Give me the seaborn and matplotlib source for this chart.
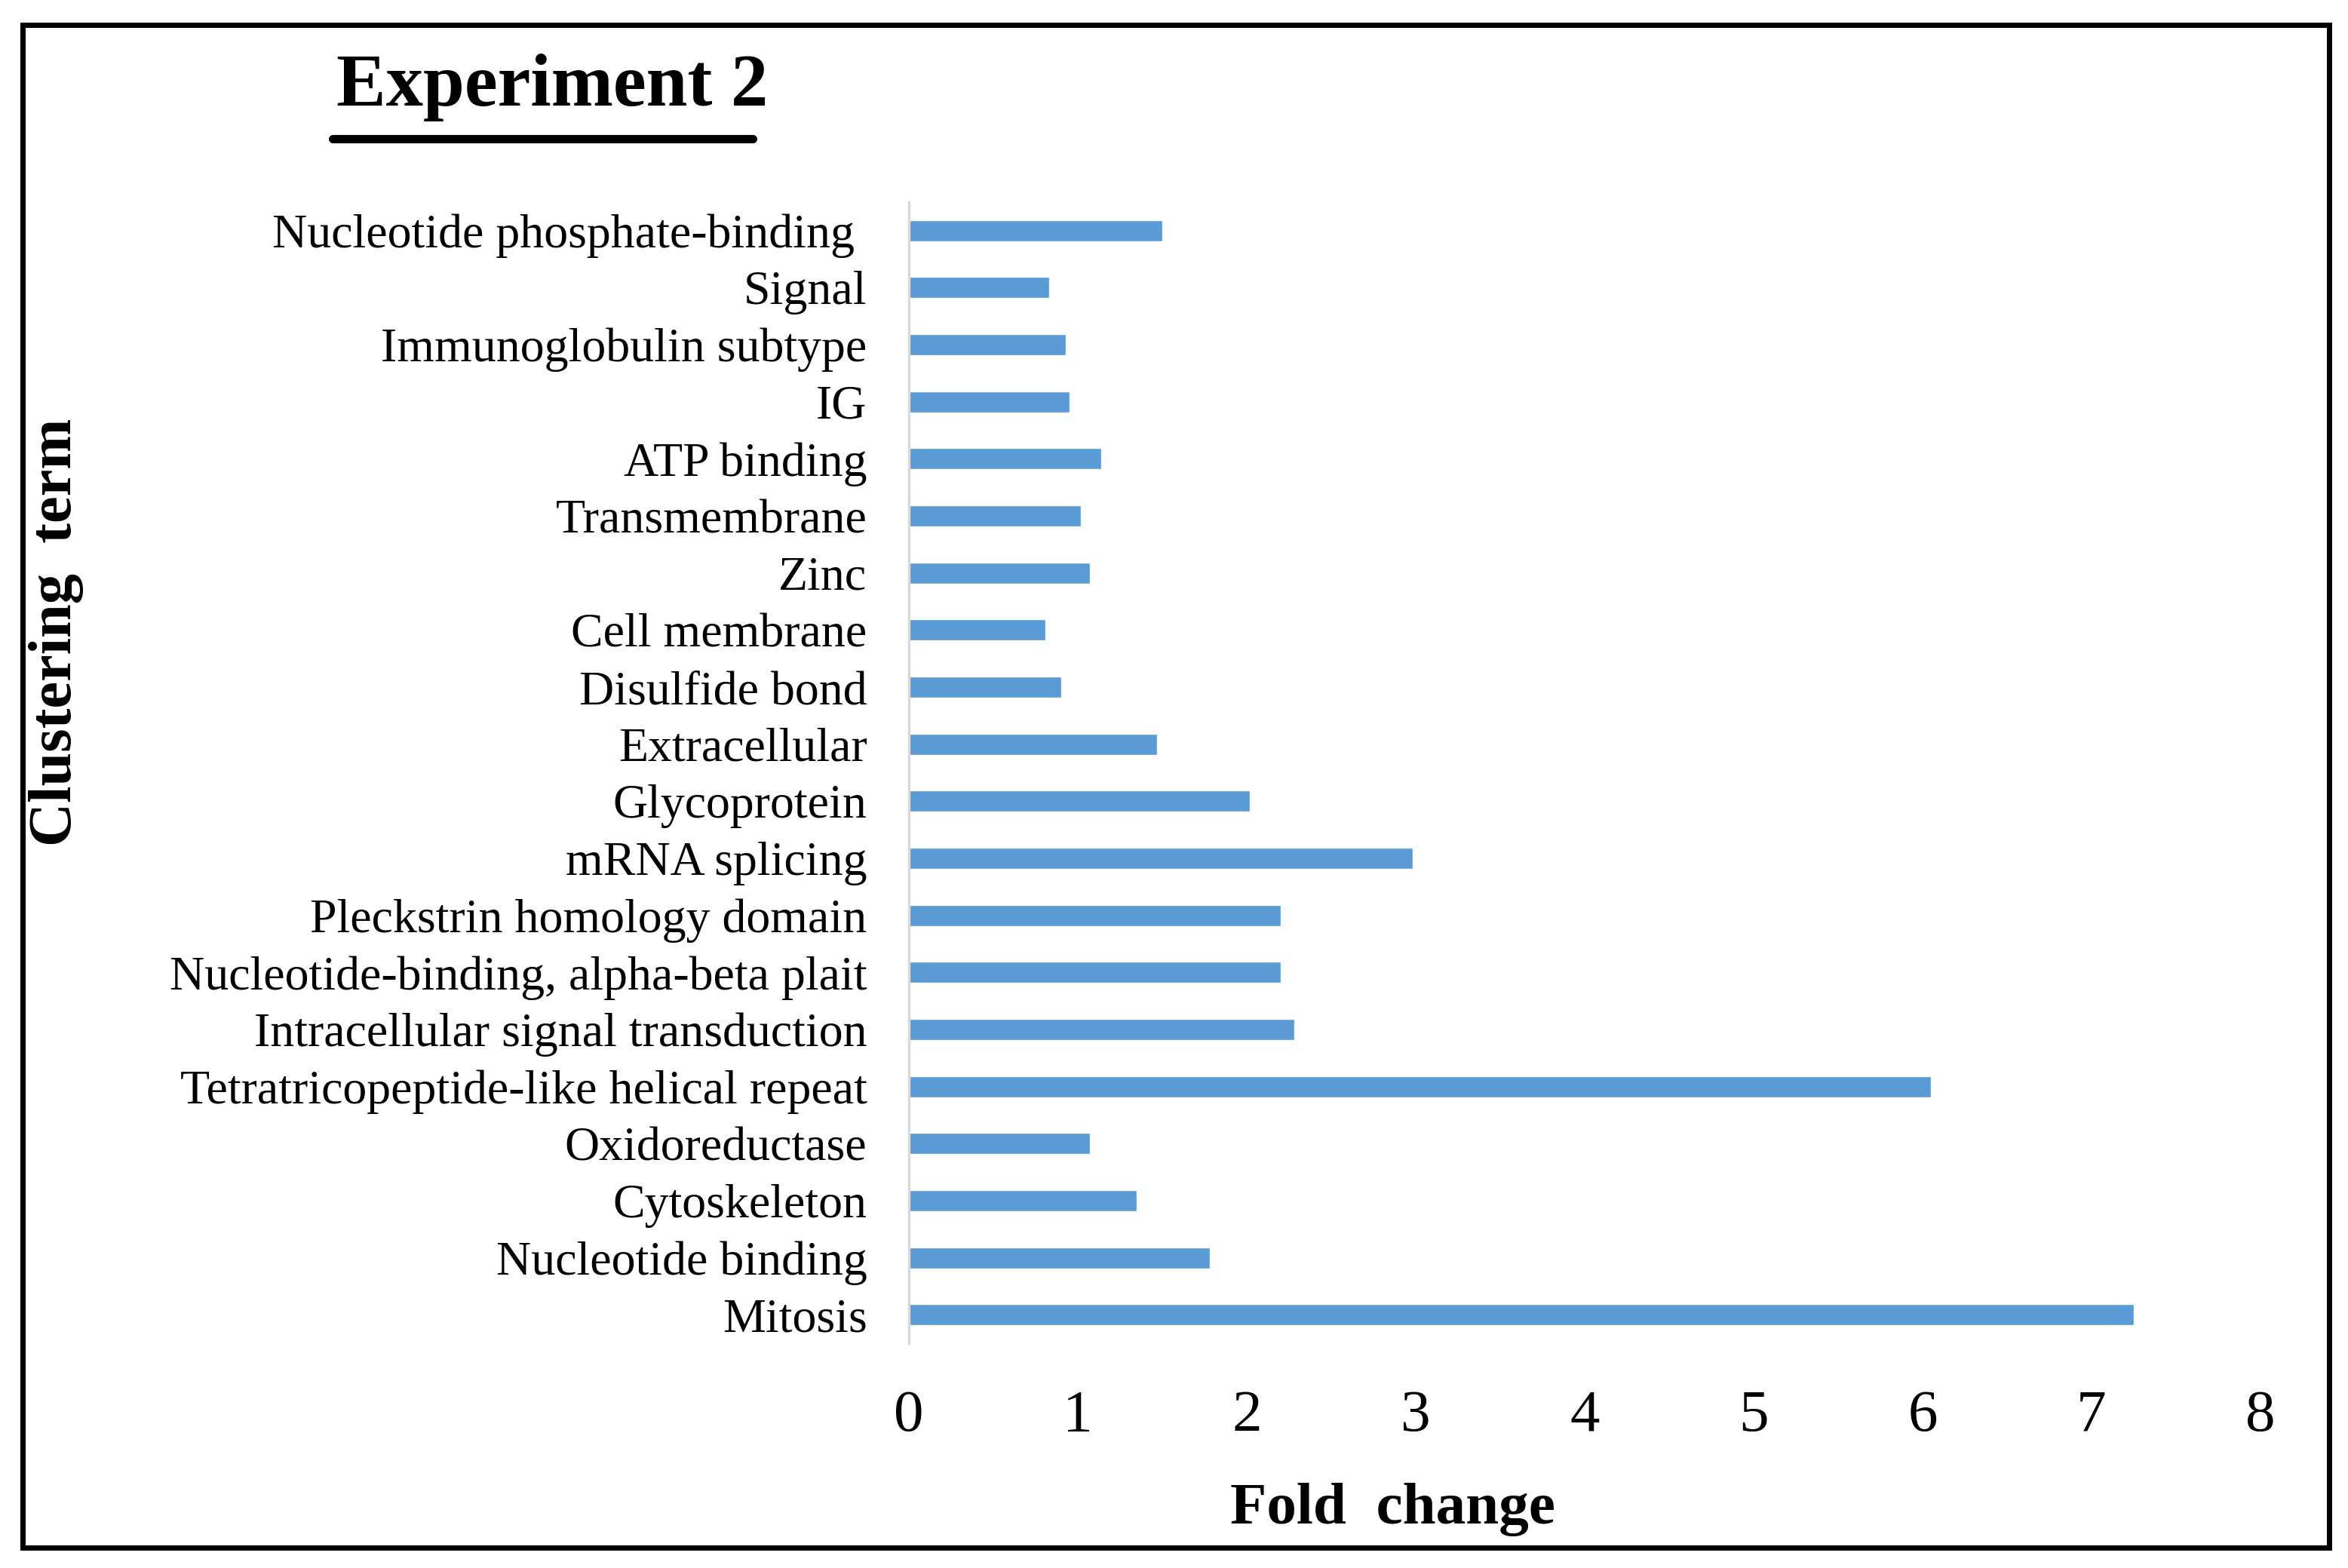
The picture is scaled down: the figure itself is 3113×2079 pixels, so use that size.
import numpy as np
import pandas as pd
import matplotlib
matplotlib.use('Agg')
import matplotlib.pyplot as plt
from matplotlib.patches import Rectangle
from matplotlib.lines import Line2D
import seaborn as sns

terms = ['Nucleotide phosphate-binding ', 'Signal', 'Immunoglobulin subtype', 'IG',
         'ATP binding', 'Transmembrane', 'Zinc', 'Cell membrane', 'Disulfide bond',
         'Extracellular', 'Glycoprotein', 'mRNA splicing', 'Pleckstrin homology domain',
         'Nucleotide-binding, alpha-beta plait', 'Intracellular signal transduction',
         'Tetratricopeptide-like helical repeat', 'Oxidoreductase', 'Cytoskeleton',
         'Nucleotide binding', 'Mitosis']
fold_change = [1.50, 0.83, 0.93, 0.95, 1.14, 1.02, 1.07, 0.81, 0.90, 1.47,
               2.02, 2.98, 2.20, 2.20, 2.28, 6.05, 1.07, 1.35, 1.78, 7.25]
xticks = [0, 1, 2, 3, 4, 5, 6, 7, 8]

df = pd.DataFrame({'term': terms, 'fold': fold_change})

sns.set_style('white')
plt.rcParams['font.family'] = ['Liberation Serif', 'DejaVu Serif']
plt.rcParams['text.color'] = 'black'
plt.rcParams['xtick.color'] = 'black'
plt.rcParams['ytick.color'] = 'black'

W, H = 3113, 2079
fig = plt.figure(figsize=(W / 100, H / 100), dpi=100)
ax = fig.add_axes([1205 / W, 1 - 1781 / H, (2997 - 1205) / W, (1781 - 268) / H])

sns.barplot(data=df, x='fold', y='term', orient='h', color='#5B9BD5', saturation=1,
            width=0.37, ax=ax)

ax.set_xlim(0, 8)
ax.set_ylim(len(terms) - 0.5, -0.5)
ax.set_xticks(xticks)
ax.set_xticklabels([str(t) for t in xticks], fontsize=57)
ax.tick_params(axis='x', length=0, pad=44)
ax.tick_params(axis='y', length=0, pad=40, labelsize=46)
ax.set_xlabel('')
ax.set_ylabel('')
for s in ['top', 'right', 'bottom']:
    ax.spines[s].set_visible(False)
ax.spines['left'].set_color('#D9D9D9')
ax.spines['left'].set_linewidth(2.5)

# title with underline
fig.text(732 / W, 1 - 140 / H, 'Experiment 2', fontsize=71, fontweight='bold',
         ha='center', va='baseline')
fig.add_artist(Line2D([441 / W, 998 / W], [1 - 184 / H, 1 - 184 / H], color='black', lw=8))

fig.text(1846 / W, 1 - 2020 / H, 'Fold  change', fontsize=57, fontweight='bold',
         ha='center', va='baseline')
fig.text(75 / W, 1 - 838 / H, 'Clustering  term', fontsize=58, fontweight='bold',
         rotation=90, ha='center', va='center')

# outer frame
fig.add_artist(Rectangle((30 / W, 1 - 2052 / H), (3088 - 30) / W, (2052 - 33) / H,
                         fill=False, edgecolor='black', lw=5, transform=fig.transFigure))

fig.savefig('out.png', dpi=100, facecolor='white')
